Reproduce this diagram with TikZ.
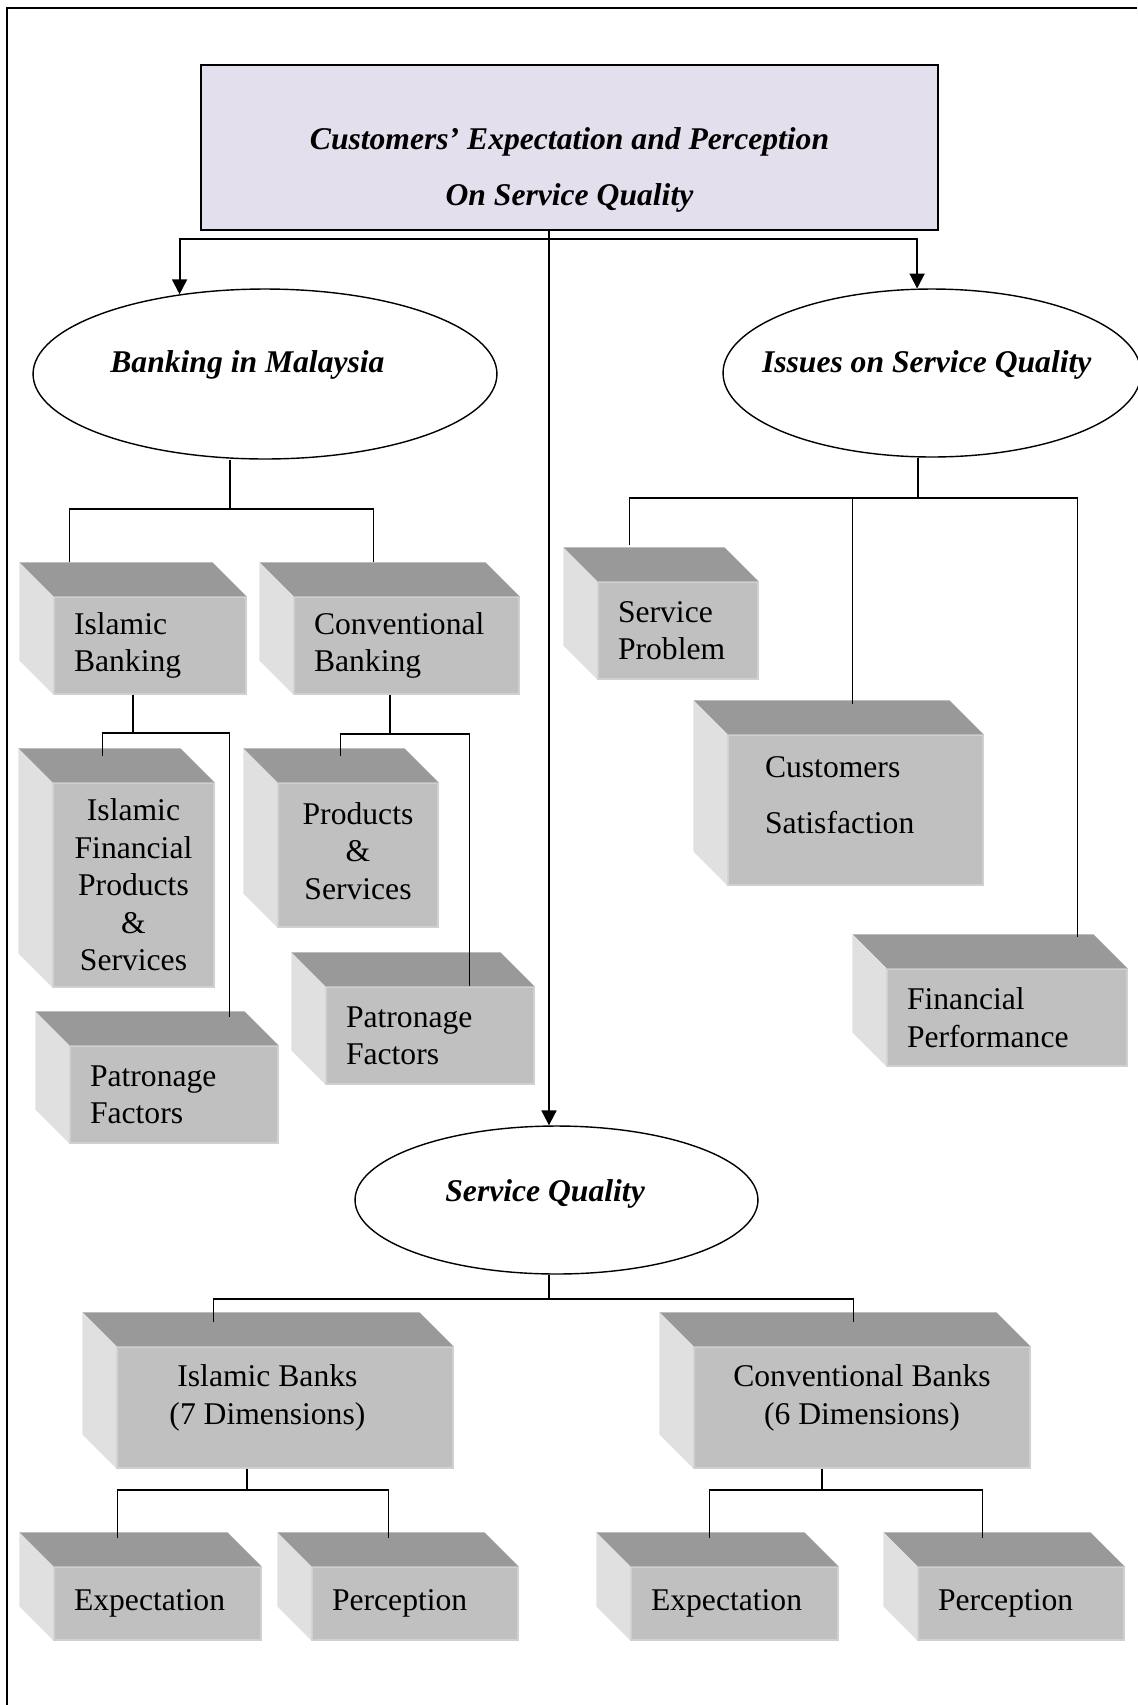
\documentclass[tikz,border=0pt]{standalone}
\usepackage{fontspec}
\setmainfont{Liberation Serif}
\usetikzlibrary{arrows.meta,calc,shapes.geometric}
\definecolor{titlefill}{RGB}{227,223,236}
\definecolor{cubefront}{RGB}{192,192,192}
\definecolor{cubetop}{RGB}{153,153,153}
\definecolor{cubeside}{RGB}{224,224,224}
\definecolor{cubeedge}{RGB}{208,208,208}
\begin{document}
\begin{tikzpicture}[x=0.02cm, y=-0.02cm,
    font=\fontsize{18}{21.3}\selectfont,
    headbox/.style={draw, line width=1pt, fill=titlefill, minimum width=14.74cm, minimum height=3.3cm, align=center, inner sep=0pt},
    oval/.style={ellipse, draw, line width=0.8pt, inner sep=0pt, font=\fontsize{18}{21.3}\selectfont\bfseries\itshape},
    cube/.style={fill=cubefront, draw=cubeedge, line width=0.7pt, inner sep=0pt},
    cubel/.style={cube, align=left, inner xsep=0.4cm, text width=#1},
    cubec/.style={cube, align=center},
    link/.style={line width=0.8pt},
    arr/.style={line width=1.1pt, -{Triangle[length=8.5pt, width=8.5pt]}},
    pageframe/.style={line width=1pt}]
    \useasboundingbox (0,0) rectangle (1137,1705);
    \draw[pageframe] (7,1705) -- (7,8) -- (1137,8);

    \node[headbox, font=\fontsize{18}{32}\selectfont\bfseries\itshape, text height=70pt] at (569.5,147.5) (title) {Customers' Expectation and Perception\\On Service Quality};

    \node[oval, minimum width=9.28cm, minimum height=3.4cm, text depth=14pt] at (265,374) (bank_m) {\makebox[0pt]{Banking in Malaysia\hspace{20pt}}};
    \node[oval, minimum width=8.36cm, minimum height=3.36cm, text depth=13pt] at (932,373) (issues) {\makebox[0pt]{Issues on Service Quality\hspace{6pt}}};
    \node[oval, minimum width=8.06cm, minimum height=2.96cm, text depth=10.5pt] at (556.5,1200) (sq) {\makebox[0pt]{Service Quality\hspace{13pt}}};

    \node[cubel=3.04cm, minimum height=1.94cm] at (150,645.5) (isl_b) {Islamic\\Banking};
    \node[cubel=3.7cm, minimum height=1.94cm] at (406.5,645.5) (con_b) {Conventional\\Banking};
    \node[cubec, minimum width=3.22cm, minimum height=4.08cm] at (133.5,885) (isl_p) {Islamic\\Financial\\Products\\\&\\Services};
    \node[cubel=3.36cm, minimum height=1.94cm] at (174,1094.5) (isl_f) {Patronage\\Factors};
    \node[cubec, minimum width=3.2cm, minimum height=2.88cm, text depth=5pt] at (358,855) (con_p) {Products\\\&\\Services};
    \node[cubel=3.36cm, minimum height=1.94cm] at (430,1035.5) (con_f) {Patronage\\Factors};

    \node[cubel=2.4cm, minimum height=1.94cm] at (678,630.5) (sp) {Service\\Problem};
    \node[cube, align=left, inner xsep=0.74cm, text width=3.62cm, minimum height=3cm, font=\fontsize{18}{32}\selectfont, text depth=49pt] at (855.5,810) (cs) {Customers\\Satisfaction};
    \node[cubel=4cm, minimum height=1.94cm] at (1007,1017.5) (fp) {Financial\\Performance};

    \node[cubec, minimum width=6.72cm, minimum height=2.42cm, text depth=15pt] at (285,1407.5) (isl_sq) {Islamic Banks\hspace*{20pt}\\(7 Dimensions)\hspace*{20pt}};
    \node[cubec, minimum width=6.72cm, minimum height=2.42cm, text depth=15pt] at (862,1407.5) (con_sq) {Conventional Banks\\(6 Dimensions)};
    \node[cubel=3.34cm, minimum height=1.46cm] at (157.5,1603.5) (isl_e) {Expectation};
    \node[cubel=3.32cm, minimum height=1.46cm] at (415,1603.5) (isl_pe) {Perception};
    \node[cubel=3.34cm, minimum height=1.46cm] at (734.5,1603.5) (con_e) {Expectation};
    \node[cubel=3.32cm, minimum height=1.46cm] at (1021,1603.5) (con_pe) {Perception};

    \foreach \n in {isl_b,con_b,isl_p,isl_f,con_p,con_f,sp,cs,fp,isl_sq,con_sq,isl_e,isl_pe,con_e,con_pe} {
      \fill[cubetop] (\n.north west) -- (\n.north east) -- ++(-34,-34) -- ($(\n.north west)+(-34,-34)$) -- cycle;
      \fill[cubeside] (\n.north west) -- ($(\n.north west)+(-34,-34)$) -- ($(\n.south west)+(-34,-34)$) -- (\n.south west) -- cycle;
    }

    \coordinate (t_bus) at (549,239);
    \draw[arr] (title.south -| t_bus) -- (sq.north -| t_bus);
    \draw[arr] (t_bus) -| (bank_m.137);
    \draw[arr] (t_bus) -| (issues.100);

    \coordinate (j_bank) at (230,509);
    \draw[link] (bank_m.south -| j_bank) -- (j_bank);
    \draw[link] ($(isl_b.north west)+(16,-34)$) |- (j_bank) -| ($(con_b.north west)+(80,-34)$);
    \coordinate (j_ib) at (133,733);
    \draw[link] (isl_b.south -| j_ib) -- (j_ib);
    \draw[link] ($(isl_p.north west)+(50,-26)$) |- (j_ib) -| ($(isl_f.north west)+(160,-28)$);
    \coordinate (j_cb) at (390,734);
    \draw[link] (con_b.south -| j_cb) -- (j_cb);
    \draw[link] ($(con_p.north west)+(63,-26)$) |- (j_cb) -| ($(con_f.north west)+(144,0)$);

    \coordinate (j_is) at (918,498);
    \draw[link] (issues.south -| j_is) -- (j_is);
    \draw[link] ($(sp.north west)+(32,-36)$) |- (j_is) -| ($(fp.north west)+(191,-31)$);
    \coordinate (cs_in) at ($(cs.north west)+(125,-30)$);
    \draw[link] (cs_in) -- (cs_in |- j_is);

    \coordinate (j_sq) at (549,1299);
    \draw[link] (sq.south -| j_sq) -- (j_sq);
    \draw[link] ($(isl_sq.north west)+(97,-24)$) |- (j_sq) -| ($(con_sq.north west)+(160,-24)$);
    \coordinate (j_isq) at (247,1490);
    \draw[link] (isl_sq.south -| j_isq) -- (j_isq);
    \draw[link] ($(isl_e.north west)+(64,-28)$) |- (j_isq) -| ($(isl_pe.north west)+(77,-28)$);
    \coordinate (j_csq) at (822,1490);
    \draw[link] (con_sq.south -| j_csq) -- (j_csq);
    \draw[link] ($(con_e.north west)+(79,-28)$) |- (j_csq) -| ($(con_pe.north west)+(65,-28)$);
  \end{tikzpicture}
\end{document}
